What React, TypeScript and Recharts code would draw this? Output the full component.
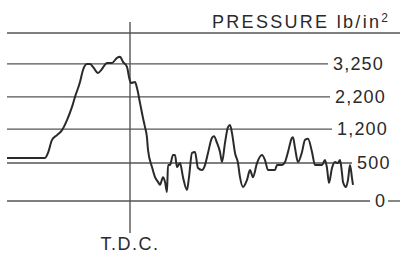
import React from "react";
import { LineChart, Line, XAxis, YAxis, ReferenceLine } from "recharts";

// crank angle (deg from T.D.C.)
const angles = [
  -123, -85, -82, -78, -73, -68, -63, -58, -55, -50, -47, -43, -40, -37, -32, -28,
  -23, -18, -13, -10, -7, -3, -1, 1, 5, 7, 10, 13, 15, 17, 18, 22, 25, 28, 30, 33,
  35, 37, 38, 40, 43, 45, 47, 50, 53, 57, 59, 62, 65, 68, 72, 75, 78, 82, 84, 87,
  90, 92, 95, 98, 100, 102, 105, 108, 110, 113, 117, 120, 123, 127, 132, 135, 138,
  142, 145, 147, 152, 155, 158, 162, 163, 165, 168, 172, 175, 178, 182, 185, 188,
  192, 195, 197, 199, 202, 205, 208, 210, 212, 213, 216, 218, 220, 222, 223,
];

// pressure, in scale divisions of the gauge (see tick levels below)
const pressure = [
  1.28, 1.28, 1.43, 1.82, 1.96, 2.11, 2.41, 2.8, 3.1, 3.54, 3.9, 4.08, 4.08, 3.99, 3.81, 3.93,
  4.11, 4.11, 4.26, 4.29, 4.14, 3.99, 3.69, 3.51, 3.54, 3.36, 2.92, 2.47, 2.2, 1.88, 1.52, 1.01,
  0.71, 0.57, 0.48, 0.71, 0.57, 0.27, 1.07, 1.07, 1.37, 1.37, 1.01, 1.13, 0.71, 0.33, 0.71, 1.43,
  1.46, 0.98, 0.92, 1.07, 1.43, 1.88, 1.93, 1.73, 1.46, 1.16, 1.73, 2.2, 2.26, 2.02, 1.43, 1.13,
  0.71, 0.42, 0.63, 0.92, 0.71, 1.13, 1.37, 1.22, 0.92, 0.92, 0.92, 1.07, 1.07, 1.16, 1.46, 1.88,
  1.9, 1.58, 1.16, 1.46, 1.82, 1.85, 1.46, 1.07, 1.07, 1.07, 1.22, 0.98, 0.54, 0.98, 1.16, 1.13,
  1.22, 0.83, 0.57, 0.42, 0.63, 1.07, 0.68, 0.48,
];

// scale lines: level on the gauge, label, where the ruled line stops
const tickLevels = [0, 1.13, 2.14, 3.1, 4.08, 5];
const tickLabels = ["0", "500", "1,200", "2,200", "3,250", ""];
const lineEnds = [240, 222, 202, 200, 198, 270];

const data = angles.map((a, i) => ({ a, p: pressure[i] }));

const ink = "#2a2a2a";
const font = "'Liberation Sans', Arial, sans-serif";

export default function App() {
  return (
    <div
      style={{
        position: "absolute",
        left: 0,
        top: 0,
        width: 407,
        height: 262,
        background: "#fff",
        fontFamily: font,
      }}
    >
      <div
        style={{
          position: "absolute",
          left: 212,
          top: 13,
          fontSize: 18,
          lineHeight: "18px",
          letterSpacing: 2.3,
          color: ink,
          whiteSpace: "nowrap",
        }}
      >
        PRESSURE lb/in<sup style={{ fontSize: 12, verticalAlign: 6, lineHeight: 0 }}>2</sup>
      </div>
      <LineChart
        width={407}
        height={262}
        data={data}
        margin={{ top: 33, right: 7, bottom: 61, left: 7 }}
      >
        <XAxis dataKey="a" type="number" domain={[-123, 270]} hide />
        <YAxis type="number" domain={[0, 5]} hide />
        {tickLevels.map((lvl, i) => (
          <ReferenceLine
            key={i}
            segment={[
              { x: -123, y: lvl },
              { x: lineEnds[i], y: lvl },
            ]}
            stroke="#555"
            strokeWidth={1.4}
            label={{
              value: tickLabels[i],
              position: "right",
              offset: 5,
              fill: ink,
              fontSize: 18,
              fontFamily: font,
              letterSpacing: 1.2,
            }}
          />
        ))}
        <ReferenceLine
          segment={[
            { x: 258, y: 0 },
            { x: 270, y: 0 },
          ]}
          stroke="#555"
          strokeWidth={1.4}
        />
        <ReferenceLine
          segment={[
            { x: 0, y: 5.33 },
            { x: 0, y: -0.95 },
          ]}
          ifOverflow="visible"
          stroke="#555"
          strokeWidth={1.4}
          label={{
            value: "T.D.C.",
            position: "bottom",
            offset: 4,
            fill: ink,
            fontSize: 18,
            fontFamily: font,
            letterSpacing: 1.5,
          }}
        />
        <Line
          dataKey="p"
          type="monotone"
          stroke={ink}
          strokeWidth={2}
          dot={false}
          isAnimationActive={false}
        />
      </LineChart>
    </div>
  );
}
